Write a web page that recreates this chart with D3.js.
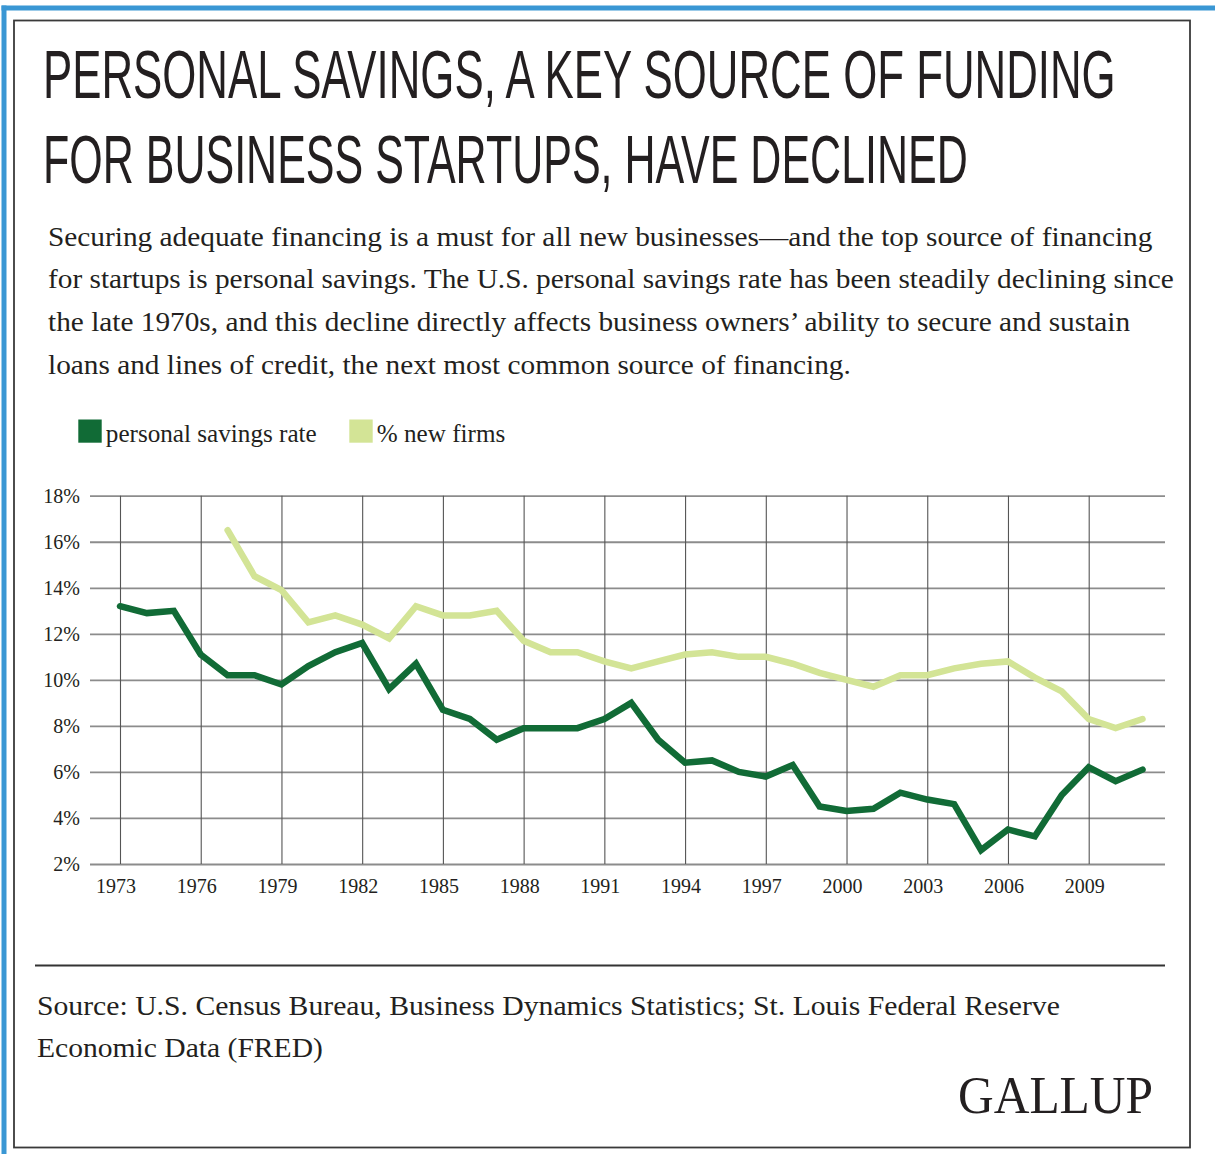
<!DOCTYPE html>
<html>
<head>
<meta charset="utf-8">
<script src="https://cdn.jsdelivr.net/npm/d3@7"></script>
<style>
  html, body { margin: 0; padding: 0; background: #fff; }
  svg { display: block; }
</style>
</head>
<body>
<script>
// ---------- DATA ----------
const years = [1973,1974,1975,1976,1977,1978,1979,1980,1981,1982,1983,1984,1985,1986,1987,1988,1989,1990,1991,1992,1993,1994,1995,1996,1997,1998,1999,2000,2001,2002,2003,2004,2005,2006,2007,2008,2009,2010,2011];
const personalSavingsRate = [13.2,12.9,13.0,11.1,10.2,10.2,9.8,10.6,11.2,11.6,9.6,10.7,8.7,8.3,7.4,7.9,7.9,7.9,8.3,9.0,7.4,6.4,6.5,6.0,5.8,6.3,4.5,4.3,4.4,5.1,4.8,4.6,2.6,3.5,3.2,5.0,6.2,5.6,6.1];
const pctNewFirms = [null,null,null,null,16.5,14.5,13.9,12.5,12.8,12.4,11.8,13.2,12.8,12.8,13.0,11.7,11.2,11.2,10.8,10.5,10.8,11.1,11.2,11.0,11.0,10.7,10.3,10.0,9.7,10.2,10.2,10.5,10.7,10.8,10.1,9.5,8.3,7.9,8.3];
const xTickYears = [1973,1976,1979,1982,1985,1988,1991,1994,1997,2000,2003,2006,2009];
const yTickValues = [2,4,6,8,10,12,14,16,18];
const seriesNames = ["personal savings rate", "% new firms"];
const titleLines = ["PERSONAL SAVINGS, A KEY SOURCE OF FUNDING", "FOR BUSINESS STARTUPS, HAVE DECLINED"];
const descriptionLines = [
  "Securing adequate financing is a must for all new businesses\u2014and the top source of financing",
  "for startups is personal savings. The U.S. personal savings rate has been steadily declining since",
  "the late 1970s, and this decline directly affects business owners\u2019 ability to secure and sustain",
  "loans and lines of credit, the next most common source of financing."
];
const sourceLines = [
  "Source: U.S. Census Bureau, Business Dynamics Statistics; St. Louis Federal Reserve",
  "Economic Data (FRED)"
];
const brand = "GALLUP";

// ---------- LAYOUT ----------
const W = 1215, H = 1154;
const colors = { dark: "#116b36", light: "#d3e496", text: "#231f20", blue: "#3a97d4", frame: "#3a3a3a" };
const plot = { left: 90, right: 1165, top: 495.7, bottom: 864 };
const serif = "'Liberation Serif', 'Times New Roman', serif";

const svg = d3.select("body").append("svg").attr("width", W).attr("height", H);

// place text at (x, baseline y) and scale horizontally to a target width
function fitText(g, str, x, y, size, family, width) {
  const t = g.append("text")
    .attr("x", 0).attr("y", 0)
    .attr("font-family", family)
    .attr("font-size", size)
    .attr("fill", colors.text)
    .text(str);
  const natural = t.node().getComputedTextLength();
  const k = natural > 0 ? width / natural : 1;
  t.attr("transform", `translate(${x},${y}) scale(${k},1)`);
  return t;
}

// outer decorations
svg.append("rect").attr("x", 0).attr("y", 0).attr("width", W).attr("height", H).attr("fill", "#fff");
svg.append("rect").attr("x", 1.5).attr("y", 5.5).attr("width", W - 1.5).attr("height", 5).attr("fill", colors.blue);
svg.append("rect").attr("x", 1.5).attr("y", 5.5).attr("width", 5).attr("height", H - 5.5).attr("fill", colors.blue);
svg.append("rect").attr("x", 14).attr("y", 20.5).attr("width", 1176).attr("height", 1127)
  .attr("fill", "none").attr("stroke", colors.frame).attr("stroke-width", 1.8);

// title
const titleG = svg.append("g");
const titleWidths = [1073, 925];
titleLines.forEach((s, i) =>
  fitText(titleG, s, 43, 97.5 + i * 85, 69, "'Liberation Sans Narrow', 'Liberation Sans', Roboto, sans-serif", titleWidths[i]));

// description
const descG = svg.append("g");
const descWidths = [1105, 1126, 1083, 803];
descriptionLines.forEach((s, i) =>
  fitText(descG, s, 48, 245.5 + i * 42.8, 27.5, serif, descWidths[i]));

// legend
const legendX = [78.3, 349.3];
const legendW = [211, 128.5];
const legendG = svg.append("g");
seriesNames.forEach((s, i) => {
  legendG.append("rect")
    .attr("x", legendX[i]).attr("y", 419.5).attr("width", 23.4).attr("height", 23.2)
    .attr("fill", i === 0 ? colors.dark : colors.light);
  fitText(legendG, s, legendX[i] + 27.5, 441.5, 24.5, serif, legendW[i]);
});

// scales
const x = d3.scaleLinear().domain([1973, 2009]).range([120, 1088.7]);
const y = d3.scaleLinear().domain([2, 18]).range([plot.bottom, plot.top]);

// horizontal grid + y labels
const yAxis = svg.append("g")
  .attr("transform", `translate(${plot.left},0)`)
  .call(d3.axisLeft(y).tickValues(yTickValues)
    .tickSize(-(plot.right - plot.left)).tickSizeOuter(0).tickPadding(10)
    .tickFormat(d => d + "%"));
yAxis.select(".domain").remove();
yAxis.selectAll("line").attr("stroke", "#8c8c8c").attr("stroke-width", 1.8);
yAxis.selectAll("text")
  .attr("font-family", serif)
  .attr("font-size", 20).attr("fill", colors.text).attr("dy", "0.33em");

// vertical grid + x labels
const xAxis = svg.append("g")
  .attr("transform", `translate(0,${plot.bottom})`)
  .call(d3.axisBottom(x).tickValues(xTickYears)
    .tickSize(-(plot.bottom - plot.top)).tickSizeOuter(0).tickPadding(14.5)
    .tickFormat(d3.format("d")));
xAxis.select(".domain").remove();
xAxis.selectAll("line").attr("stroke", "#555").attr("stroke-width", 1.1);
xAxis.selectAll("text")
  .attr("font-family", serif)
  .attr("font-size", 20).attr("fill", colors.text).attr("dx", -4.5);

// lines
const rows = years.map((yr, i) => ({ year: yr, savings: personalSavingsRate[i], firms: pctNewFirms[i] }));
const lineFirms = d3.line().defined(d => d.firms != null).x(d => x(d.year)).y(d => y(d.firms));
const lineSavings = d3.line().x(d => x(d.year)).y(d => y(d.savings));

svg.append("path").datum(rows).attr("d", lineFirms)
  .attr("fill", "none").attr("stroke", colors.light).attr("stroke-width", 6.5)
  .attr("stroke-linejoin", "miter").attr("stroke-linecap", "round");
svg.append("path").datum(rows).attr("d", lineSavings)
  .attr("fill", "none").attr("stroke", colors.dark).attr("stroke-width", 6.5)
  .attr("stroke-linejoin", "miter").attr("stroke-linecap", "round");

// separator
svg.append("line").attr("x1", 35).attr("x2", 1165).attr("y1", 965.5).attr("y2", 965.5)
  .attr("stroke", "#333").attr("stroke-width", 1.8);

// source
const srcG = svg.append("g");
const srcWidths = [1023, 286];
sourceLines.forEach((s, i) =>
  fitText(srcG, s, 37, 1015 + i * 42, 28, serif, srcWidths[i]));

// brand
fitText(svg.append("g"), brand, 958, 1113, 52, serif, 195);
</script>
</body>
</html>
